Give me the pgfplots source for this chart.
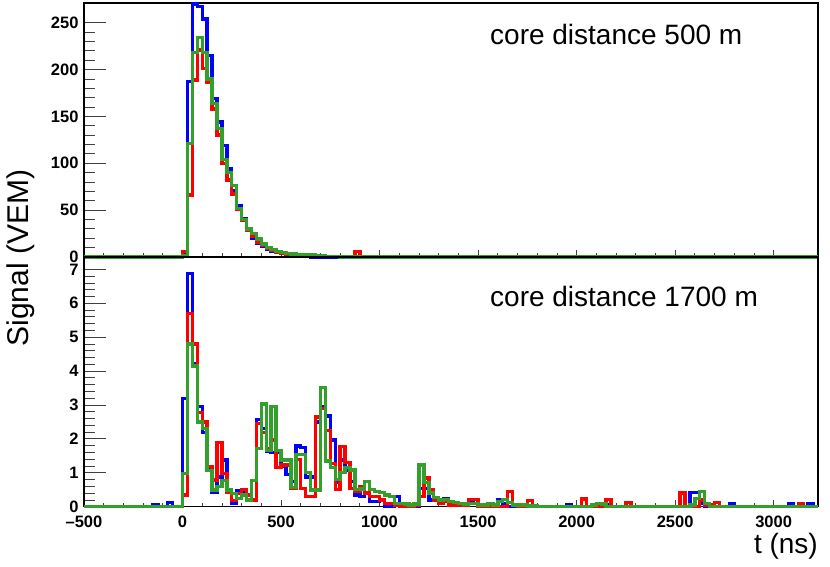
\documentclass[border=0pt]{standalone}
\usepackage{fontspec}
\setmainfont{Liberation Sans}
\usepackage{pgfplots}
\pgfplotsset{compat=1.18}
\definecolor{hblue}{RGB}{0,0,255}
\definecolor{hred}{RGB}{255,0,0}
\definecolor{hgreen}{RGB}{51,160,44}
\newcommand{\tickfont}{\fontsize{16.5}{16.5}\selectfont\bfseries}
\pgfplotsset{
  base/.style={scale only axis, width=734pt, xmin=-500, xmax=3225, clip=false,
    anchor=south west, axis line style={line width=1.5pt},
    tick style={black!75, line width=0.8pt}, tick align=inside},
  hist/.style={const plot mark left, no markers, line width=3.4pt, line join=miter},
}
\begin{document}
\begin{tikzpicture}
\useasboundingbox (0,0) rectangle (830pt,567pt);
% ---------- top panel: y ticks ----------
\begin{axis}[base, at={(84pt,310pt)}, height=254pt, ymin=0, ymax=271,
  xtick=\empty, ytick={0,50,100,150,200,250}, yticklabels={0,50,100,150,200,250},
  minor y tick num=4, major tick length=22pt, minor tick length=11pt, ytick pos=left,
  yticklabel style={font=\tickfont, xshift=-2pt}]
\addplot[draw=none] coordinates {(0,0)};
\end{axis}
% ---------- top panel: data ----------
\begin{axis}[base, at={(84pt,310pt)}, height=254pt, ymin=0, ymax=271,
  ytick=\empty, xtick={-500,0,500,1000,1500,2000,2500,3000}, xticklabels={},
  minor x tick num=4, major tick length=7pt, minor tick length=3.5pt, xtick pos=lower]
\addplot[hist, hblue] coordinates {(-500,0) (0,2) (25,187) (50,270) (75,267) (100,254) (125,215) (150,169) (175,144) (200,119) (225,94) (250,71) (275,55) (300,41) (325,29) (350,20) (375,15) (400,11) (425,8) (450,6) (475,5) (500,3.5) (525,2.5) (550,2) (575,1.5) (600,1) (625,0.5) (650,0) (850,0.8) (875,0.3) (900,0) (3225,0)};
\addplot[hist, hred] coordinates {(-500,0) (0,6) (25,66) (50,189) (75,221) (100,201) (125,186) (150,158) (175,130) (200,100) (225,82) (250,67) (275,51) (300,39) (325,28) (350,22) (375,16) (400,12) (425,9) (450,7) (475,5) (500,4) (525,3) (550,2.5) (575,2) (600,1.5) (625,1) (650,0.5) (675,0.3) (850,0.3) (875,6) (900,0.3) (950,0.6) (975,0) (3225,0)};
\addplot[hist, hgreen] coordinates {(-500,0) (0,1) (25,121) (50,218) (75,234) (100,218) (125,190) (150,164) (175,137) (200,104) (225,90) (250,76) (275,52) (300,40) (325,30) (350,25) (375,19) (400,14) (425,10) (450,8) (475,6) (500,5) (525,4) (550,3) (575,2.5) (600,2) (625,2) (650,2.2) (675,1.5) (700,1) (725,0.5) (750,0.3) (800,0.2) (900,0) (3225,0)};
\end{axis}
% ---------- bottom panel: y ticks ----------
\begin{axis}[base, at={(84pt,60.3pt)}, height=249.7pt, ymin=0, ymax=7.366,
  xtick=\empty, ytick={0,1,2,3,4,5,6,7}, yticklabels={0,1,2,3,4,5,6,7},
  minor y tick num=4, major tick length=22pt, minor tick length=11pt, ytick pos=left,
  yticklabel style={font=\tickfont, xshift=-2pt}]
\addplot[draw=none] coordinates {(0,0)};
\end{axis}
% ---------- bottom panel: data ----------
\begin{axis}[base, at={(84pt,60.3pt)}, height=249.7pt, ymin=0, ymax=7.366,
  ytick=\empty, xtick={-500,0,500,1000,1500,2000,2500,3000},
  xticklabels={–500,0,500,1000,1500,2000,2500,3000},
  minor x tick num=4, major tick length=7pt, minor tick length=3.5pt, xtick pos=lower,
  xticklabel style={font=\tickfont, yshift=-6pt}]
\addplot[hist, hblue] coordinates {(-500,0) (-150,0.06) (-125,0) (-75,0.12) (-50,0) (0,3.2) (25,6.88) (50,4.23) (75,2.95) (100,2.18) (125,1.16) (150,0.41) (175,0.88) (200,1.38) (225,0.44) (250,0.1) (275,0.46) (300,0.46) (325,0.2) (350,0.2) (375,2.58) (400,2.3) (425,1.62) (450,1.6) (475,1.6) (500,1.2) (525,0.95) (550,0.75) (575,1.79) (600,1.75) (625,0.88) (650,0.88) (675,2.5) (700,2.95) (725,2.67) (750,1.97) (775,0.71) (800,1.38) (825,1.08) (850,0.74) (875,0.34) (900,0.3) (925,0.4) (950,0.15) (975,0.15) (1000,0.2) (1025,0) (1075,0.3) (1100,0) (1200,0.54) (1225,0.54) (1250,0.2) (1275,0.25) (1300,0.2) (1325,0.25) (1350,0.1) (1375,0.05) (1400,0.1) (1425,0.05) (1450,0.2) (1475,0.1) (1500,0.05) (1525,0) (1600,0.22) (1625,0.1) (1650,0) (1725,0.05) (1750,0) (1950,0.05) (1975,0) (2150,0.05) (2175,0) (2575,0.41) (2600,0.41) (2625,0.1) (2650,0) (2775,0.08) (2800,0) (3075,0.08) (3100,0) (3175,0.08) (3200,0) (3225,0)};
\addplot[hist, hred] coordinates {(-500,0) (0,0.34) (25,5.7) (50,4.8) (75,2.77) (100,2.5) (125,1.18) (150,0.79) (175,1.89) (200,0.98) (225,0.41) (250,0.18) (275,0.39) (300,0.5) (325,0.34) (350,0.2) (375,2.46) (400,2.18) (425,1.7) (450,1.97) (475,1.16) (500,1.23) (525,1.23) (550,0.54) (575,1.4) (600,0.54) (625,0.3) (650,0.3) (675,2.65) (700,2.9) (725,2.24) (750,1.28) (775,0.51) (800,1.78) (825,1.3) (850,0.54) (875,0.44) (900,0.59) (925,0.4) (950,0.3) (975,0.3) (1000,0.2) (1025,0.1) (1075,0.05) (1100,0) (1175,0.05) (1200,0.3) (1225,0.85) (1250,0.5) (1275,0.2) (1300,0.1) (1325,0.15) (1350,0.05) (1450,0.22) (1475,0.22) (1500,0) (1650,0.44) (1675,0.05) (1700,0) (1750,0.18) (1775,0) (2025,0.23) (2050,0) (2150,0.22) (2175,0) (2250,0.12) (2275,0) (2525,0.4) (2550,0) (2625,0.2) (2650,0.05) (2700,0.12) (2725,0) (3125,0.08) (3150,0) (3225,0)};
\addplot[hist, hgreen] coordinates {(-500,0) (0,0.98) (25,4.8) (50,4.15) (75,2.5) (100,2.3) (125,1.06) (150,0.49) (175,0.6) (200,0.77) (225,0.49) (250,0.39) (275,0.25) (300,0.34) (325,0.2) (350,0.77) (375,1.72) (400,3.03) (425,1.65) (450,2.95) (475,1.65) (500,1.38) (525,1.38) (550,0.56) (575,1.54) (600,1.54) (625,1.0) (650,0.49) (675,0.49) (700,3.51) (725,1.35) (750,1.15) (775,0.8) (800,1.0) (825,1.15) (850,1.08) (875,0.5) (900,0.52) (925,0.75) (950,0.5) (975,0.45) (1000,0.42) (1025,0.35) (1050,0.3) (1075,0.1) (1100,0.1) (1125,0.08) (1150,0.05) (1175,0.08) (1200,1.23) (1225,0.72) (1250,0.4) (1275,0.28) (1300,0.2) (1325,0.22) (1350,0.15) (1375,0.12) (1400,0.1) (1425,0.08) (1450,0.1) (1475,0.1) (1500,0.05) (1525,0.05) (1550,0.1) (1575,0.05) (1600,0.15) (1625,0.22) (1650,0.12) (1675,0.05) (1700,0.05) (1750,0.02) (1800,0) (2075,0.05) (2100,0.1) (2125,0.08) (2150,0) (2575,0.05) (2600,0.25) (2625,0.44) (2650,0.1) (2675,0) (3225,0)};
\end{axis}
% ---------- texts ----------
\node[anchor=base west, font=\fontsize{28}{28}\selectfont, inner sep=0pt] at (490pt,522pt) {core distance 500 m};
\node[anchor=base west, font=\fontsize{28}{28}\selectfont, inner sep=0pt] at (490pt,260pt) {core distance 1700 m};
\node[rotate=90, font=\fontsize{30}{30}\selectfont, inner sep=0pt] at (21pt,309pt) {Signal (VEM)};
\node[anchor=base east, font=\fontsize{28}{28}\selectfont, inner sep=0pt] at (818pt,13pt) {t (ns)};
\end{tikzpicture}
\end{document}
